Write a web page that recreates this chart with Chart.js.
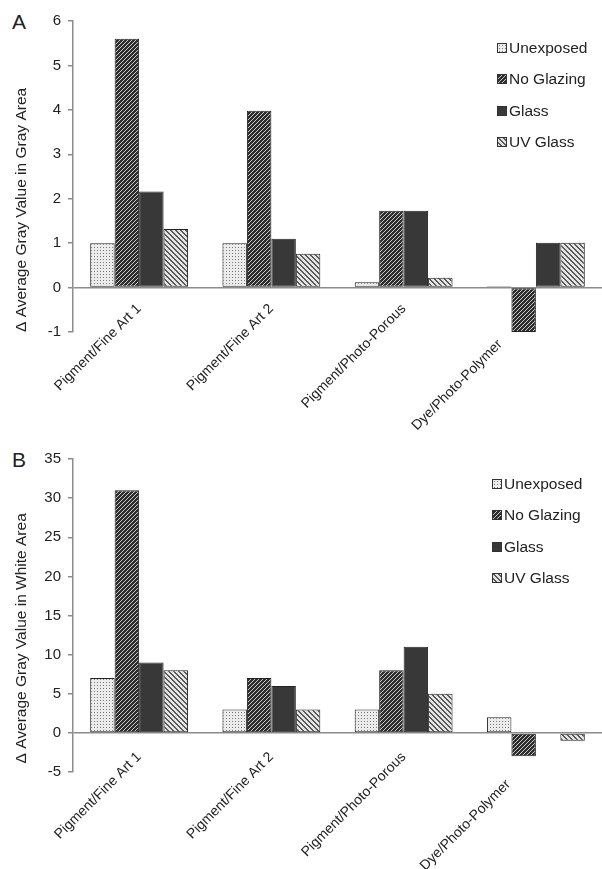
<!DOCTYPE html>
<html>
<head>
<meta charset="utf-8">
<script src="https://cdn.jsdelivr.net/npm/chart.js@4.4.1/dist/chart.umd.min.js"></script>
<style>
    body { margin: 0; background: #fff; font-family: 'Liberation Sans', Arial, sans-serif; }
    .panel { position: absolute; left: 0; width: 602px; }
    .tag { position: absolute; left: 12px; font-size: 21px; line-height: 21px; color: #222; }
    .legend { position: absolute; font-size: 15.5px; color: #222; }
    .legend div { height: 31.5px; display: flex; align-items: center; }
    .legend canvas { border: 1px solid #333; margin-right: 2px; }
</style>
</head>
<body>
<div class="tag" style="top:11px">A</div>
<div class="panel" style="top:0;height:436px"><canvas id="chartA"></canvas></div>
<div class="legend" id="legendA" style="left:497px;top:32px"></div>

<div class="tag" style="top:449px">B</div>
<div class="panel" style="top:438px;height:431px"><canvas id="chartB"></canvas></div>
<div class="legend" id="legendB" style="left:492px;top:468px"></div>

<script>
// data
const categories = ['Pigment/Fine Art 1', 'Pigment/Fine Art 2', 'Pigment/Photo-Porous', 'Dye/Photo-Polymer'];
const seriesNames = ['Unexposed', 'No Glazing', 'Glass', 'UV Glass'];

const grayUnexposed = [1, 1, 0.12, 0.03];
const grayNoGlazing = [5.6, 3.98, 1.73, -1];
const grayGlass = [2.16, 1.1, 1.73, 1.01];
const grayUvGlass = [1.32, 0.76, 0.22, 1.01];

const whiteUnexposed = [7, 3, 3, 2];
const whiteNoGlazing = [31, 7, 8, -3];
const whiteGlass = [9, 6, 11, 0];
const whiteUvGlass = [8, 3, 5, -1];

const grayTicks = { min: -1, max: 6, step: 1 };
const whiteTicks = { min: -5, max: 35, step: 5 };

// fill patterns
function makeTile(kind) {
    const c = document.createElement('canvas');
    const g = c.getContext('2d');
    if (kind === 'dots') {
        c.width = 3; c.height = 3;
        g.fillStyle = '#ececec'; g.fillRect(0, 0, 3, 3);
        g.fillStyle = '#7a7a7a'; g.fillRect(1, 1, 1, 1);
    } else if (kind === 'fwd') {
        c.width = 4; c.height = 4;
        g.fillStyle = '#2e2e2e'; g.fillRect(0, 0, 4, 4);
        g.fillStyle = '#c8c8c8';
        for (let i = 0; i < 4; i++) g.fillRect(i, 3 - i, 1, 1);
    } else if (kind === 'solid') {
        c.width = 2; c.height = 2;
        g.fillStyle = '#383838'; g.fillRect(0, 0, 2, 2);
    } else {
        c.width = 5; c.height = 5;
        g.fillStyle = '#e4e4e4'; g.fillRect(0, 0, 5, 5);
        g.fillStyle = '#5a5a5a';
        for (let i = 0; i < 5; i++) { g.fillRect(i, i, 1, 1); g.fillRect((i + 1) % 5, i, 1, 1); }
    }
    return c;
}
const tileKinds = ['dots', 'fwd', 'solid', 'back'];
const scratch = document.createElement('canvas').getContext('2d');
const fills = tileKinds.map(k => scratch.createPattern(makeTile(k), 'repeat'));

function buildLegend(id) {
    const box = document.getElementById(id);
    seriesNames.forEach((name, i) => {
        const row = document.createElement('div');
        const sw = document.createElement('canvas');
        sw.width = 8; sw.height = 8;
        const g = sw.getContext('2d');
        g.fillStyle = g.createPattern(makeTile(tileKinds[i]), 'repeat');
        g.fillRect(0, 0, 8, 8);
        row.appendChild(sw);
        row.appendChild(document.createTextNode(name));
        box.appendChild(row);
    });
}

function makeChart(id, series, yr, title, padTop, plotBottom, labelPad, dyeShift) {
    const canvas = document.getElementById(id);
    const h = canvas.parentNode.clientHeight;
    return new Chart(canvas.getContext('2d'), {
        type: 'bar',
        data: {
            labels: categories,
            datasets: series.map((vals, i) => ({
                label: seriesNames[i],
                data: vals,
                backgroundColor: fills[i],
                borderColor: '#222',
                borderWidth: 1,
                borderSkipped: false,
                barPercentage: 1,
                categoryPercentage: 0.74
            }))
        },
        options: {
            responsive: true,
            maintainAspectRatio: false,
            animation: false,
            layout: { padding: { top: padTop, right: 0, left: 0, bottom: h - plotBottom } },
            plugins: {
                legend: { display: false },
                tooltip: { enabled: false }
            },
            scales: {
                x: {
                    // category labels hang from the zero line, like the original
                    position: { y: 0 },
                    grid: { display: false, drawTicks: false },
                    border: { display: false },
                    ticks: {
                        minRotation: 45,
                        maxRotation: 45,
                        autoSkip: false,
                        padding: labelPad,
                        color: '#222',
                        font: { family: 'Liberation Sans', size: 14 },
                        callback: (v, i) => i === 3 ? categories[i] + ' '.repeat(dyeShift) : categories[i]
                    }
                },
                y: {
                    min: yr.min,
                    max: yr.max,
                    ticks: {
                        stepSize: yr.step,
                        padding: 7,
                        color: '#222',
                        font: { family: 'Liberation Sans', size: 15 }
                    },
                    grid: {
                        color: c => c.tick && c.tick.value === 0 ? '#8c8c8c' : 'rgba(0,0,0,0)',
                        lineWidth: 1.5,
                        tickColor: '#8c8c8c',
                        tickLength: 5
                    },
                    border: { display: true, color: '#8c8c8c', width: 1.5 },
                    title: {
                        display: true,
                        text: title,
                        align: 'start',
                        color: '#222',
                        padding: { top: 12, bottom: 0 },
                        font: { family: 'Liberation Sans', size: 15.5 }
                    },
                    afterFit: s => { s.width = 73; }
                }
            }
        }
    });
}

buildLegend('legendA');
buildLegend('legendB');

makeChart('chartA', [grayUnexposed, grayNoGlazing, grayGlass, grayUvGlass], grayTicks,
    'Δ Average Gray Value in Gray Area', 21, 332, 13, 13);
makeChart('chartB', [whiteUnexposed, whiteNoGlazing, whiteGlass, whiteUvGlass], whiteTicks,
    '  Δ Average Gray Value in White Area', 21, 334, 16, 10);
</script>
</body>
</html>
